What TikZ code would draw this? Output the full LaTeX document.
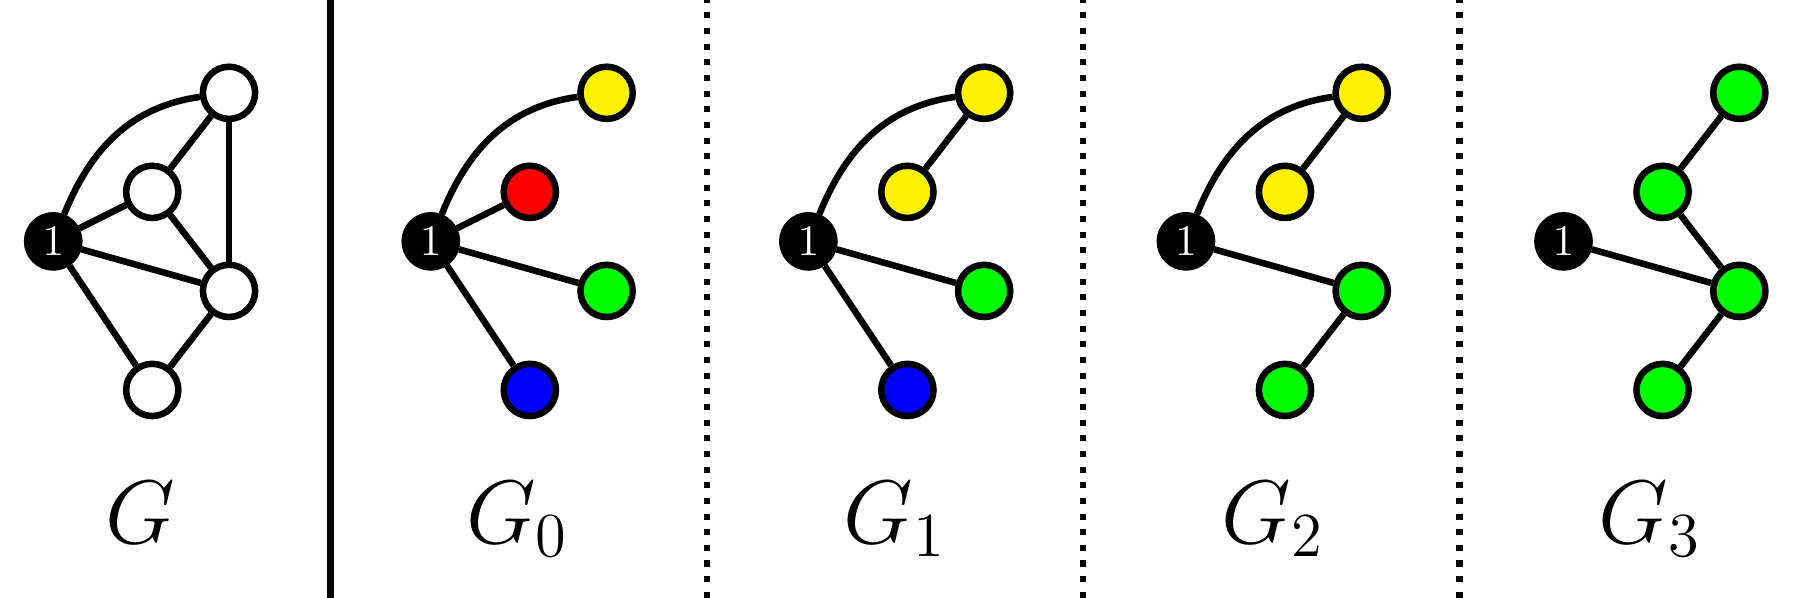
\documentclass[tikz,border=0pt]{standalone}
\begin{document}
\begin{tikzpicture}[
    vtx/.style={draw, circle, line width=1.5pt, minimum size=12pt, inner sep=0pt},
    root/.style={vtx, fill=black, text=white},
    edge/.style={draw, line width=1.5pt, -},
    arc/.style={edge, out=68, in=188},
    sep/.style={draw, line width=1.5pt},
    dotsep/.style={sep, dash pattern=on 1.4pt off 2.2pt},
    glabel/.style={font=\huge, anchor=base}]
    \useasboundingbox (0,0) rectangle (14.5,4.83);
    % G
    \node[root] (g-1) at (0.43,2.88) {$1$};
    \node[vtx, fill=white] (g-2) at (1.85,4.08) {};
    \node[vtx, fill=white] (g-3) at (1.23,3.28) {};
    \node[vtx, fill=white] (g-4) at (1.85,2.48) {};
    \node[vtx, fill=white] (g-5) at (1.23,1.68) {};
    \path[arc] (g-1) to (g-2);
    \path[edge] (g-1) -- (g-3);
    \path[edge] (g-1) -- (g-4);
    \path[edge] (g-1) -- (g-5);
    \path[edge] (g-3) -- (g-2);
    \path[edge] (g-3) -- (g-4);
    \path[edge] (g-2) -- (g-4);
    \path[edge] (g-4) -- (g-5);
    \node[glabel] (g-lab) at (1.13,0.44) {$G$};
    \path[sep] (2.67,0) -- (2.67,4.83);
    % G_0
    \node[root] (g0-1) at (3.48,2.88) {$1$};
    \node[vtx, fill=yellow] (g0-2) at (4.90,4.08) {};
    \node[vtx, fill=red] (g0-3) at (4.28,3.28) {};
    \node[vtx, fill=green] (g0-4) at (4.90,2.48) {};
    \node[vtx, fill=blue] (g0-5) at (4.28,1.68) {};
    \path[arc] (g0-1) to (g0-2);
    \path[edge] (g0-1) -- (g0-3);
    \path[edge] (g0-1) -- (g0-4);
    \path[edge] (g0-1) -- (g0-5);
    \node[glabel] (g0-lab) at (4.18,0.44) {$G_0$};
    \path[dotsep] (5.71,0) -- (5.71,4.83);
    % G_1
    \node[root] (g1-1) at (6.53,2.88) {$1$};
    \node[vtx, fill=yellow] (g1-2) at (7.95,4.08) {};
    \node[vtx, fill=yellow] (g1-3) at (7.33,3.28) {};
    \node[vtx, fill=green] (g1-4) at (7.95,2.48) {};
    \node[vtx, fill=blue] (g1-5) at (7.33,1.68) {};
    \path[arc] (g1-1) to (g1-2);
    \path[edge] (g1-3) -- (g1-2);
    \path[edge] (g1-1) -- (g1-4);
    \path[edge] (g1-1) -- (g1-5);
    \node[glabel] (g1-lab) at (7.23,0.44) {$G_1$};
    \path[dotsep] (8.75,0) -- (8.75,4.83);
    % G_2
    \node[root] (g2-1) at (9.58,2.88) {$1$};
    \node[vtx, fill=yellow] (g2-2) at (11.00,4.08) {};
    \node[vtx, fill=yellow] (g2-3) at (10.38,3.28) {};
    \node[vtx, fill=green] (g2-4) at (11.00,2.48) {};
    \node[vtx, fill=green] (g2-5) at (10.38,1.68) {};
    \path[arc] (g2-1) to (g2-2);
    \path[edge] (g2-3) -- (g2-2);
    \path[edge] (g2-1) -- (g2-4);
    \path[edge] (g2-4) -- (g2-5);
    \node[glabel] (g2-lab) at (10.28,0.44) {$G_2$};
    \path[dotsep] (11.79,0) -- (11.79,4.83);
    % G_3
    \node[root] (g3-1) at (12.63,2.88) {$1$};
    \node[vtx, fill=green] (g3-2) at (14.05,4.08) {};
    \node[vtx, fill=green] (g3-3) at (13.43,3.28) {};
    \node[vtx, fill=green] (g3-4) at (14.05,2.48) {};
    \node[vtx, fill=green] (g3-5) at (13.43,1.68) {};
    \path[edge] (g3-3) -- (g3-2);
    \path[edge] (g3-3) -- (g3-4);
    \path[edge] (g3-1) -- (g3-4);
    \path[edge] (g3-4) -- (g3-5);
    \node[glabel] (g3-lab) at (13.33,0.44) {$G_3$};
\end{tikzpicture}
\end{document}
